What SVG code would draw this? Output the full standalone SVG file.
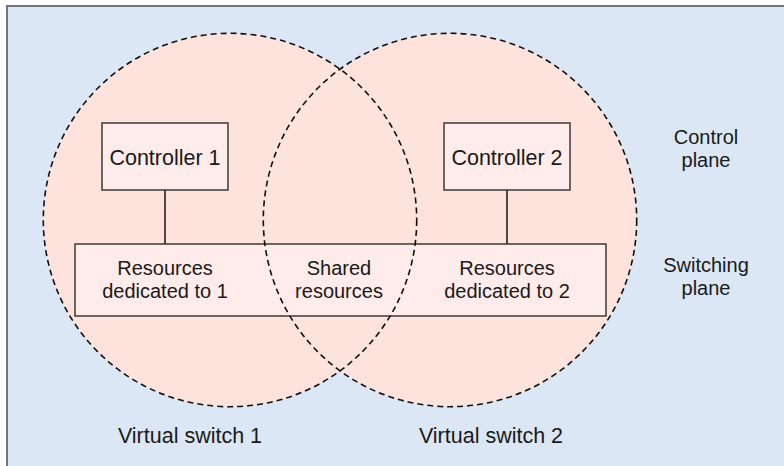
<svg xmlns="http://www.w3.org/2000/svg" width="784" height="466" viewBox="0 0 784 466">
<style>
.t{font-family:"Liberation Sans",Arial,sans-serif;font-size:21.5px;fill:#1a1a1a;text-anchor:middle}
.m{font-size:20px}
.circ{fill:#fde3db;stroke:none}
.dash{fill:none;stroke:#111;stroke-width:1.6;stroke-dasharray:6 4}
.box{fill:#fdecea;stroke:#3a3a3a;stroke-width:1.5}
.conn{stroke:#111;stroke-width:1.5;fill:none}
</style>
<rect x="0" y="0" width="784" height="466" fill="#ffffff"/>
<rect x="7" y="6" width="800" height="500" fill="#dbe7f5" stroke="#6e7580" stroke-width="2"/>
<g id="virtual-switch-1-area"><circle class="circ" cx="230" cy="220" r="186.7"/></g>
<g id="virtual-switch-2-area"><circle class="circ" cx="450" cy="220" r="186.7"/></g>
<g id="connectors">
<line class="conn" x1="165" y1="190" x2="165" y2="244"/>
<line class="conn" x1="507" y1="190" x2="507" y2="244"/>
</g>
<g id="controller-1">
<rect class="box" x="102" y="123" width="126" height="67"/>
<text class="t" x="165" y="165">Controller 1</text>
</g>
<g id="controller-2">
<rect class="box" x="444" y="123" width="126" height="67"/>
<text class="t" x="507" y="165">Controller 2</text>
</g>
<g id="switching-plane">
<rect class="box" x="75" y="244" width="531" height="72"/>
<text class="t m" x="165" y="275">Resources</text>
<text class="t m" x="165" y="297.5">dedicated to 1</text>
<text class="t m" x="339" y="275">Shared</text>
<text class="t m" x="339" y="297.5">resources</text>
<text class="t m" x="507" y="275">Resources</text>
<text class="t m" x="507" y="297.5">dedicated to 2</text>
</g>
<g id="circle-outlines">
<circle class="dash" cx="230" cy="220" r="186.7"/>
<circle class="dash" cx="450" cy="220" r="186.7"/>
</g>
<g id="labels">
<text class="t m" x="706" y="144">Control</text>
<text class="t m" x="706" y="166.5">plane</text>
<text class="t m" x="706" y="272">Switching</text>
<text class="t m" x="706" y="294.5">plane</text>
<text class="t" x="190" y="443">Virtual switch 1</text>
<text class="t" x="491" y="443">Virtual switch 2</text>
</g>
</svg>
